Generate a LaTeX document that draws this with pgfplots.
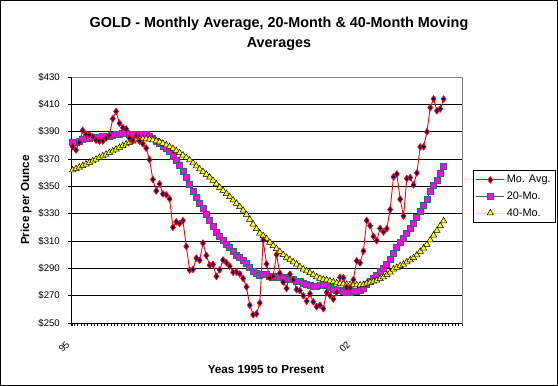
\documentclass[border=0pt]{standalone}
\usepackage{fontspec}
\setmainfont{Liberation Sans}
\usepackage{pgfplots}
\pgfplotsset{compat=1.18}
\usepackage{pgfplotstable}
\definecolor{navy}{RGB}{0,0,128}
\definecolor{tealb}{RGB}{51,102,102}
\definecolor{mag}{RGB}{255,0,255}
\definecolor{yel}{RGB}{255,255,0}

\pgfplotstableread{
idx mo ma20 ma40
0 379.0 381.8 362.0
1 376.6 382.3 362.8
2 382.1 383.0 363.9
3 391.0 384.0 365.0
4 388.0 384.8 366.2
5 387.6 385.3 367.4
6 386.2 385.6 368.6
7 383.7 385.8 369.8
8 383.1 386.0 371.0
9 383.1 386.2 372.2
10 385.3 386.5 373.4
11 387.4 386.8 374.6
12 399.5 387.3 375.8
13 404.8 387.8 377.1
14 396.2 388.2 378.4
15 392.9 388.4 379.7
16 392.0 388.4 380.9
17 385.3 388.2 382.0
18 383.5 388.0 383.0
19 387.4 387.7 383.8
20 383.1 387.9 384.4
21 381.1 388.2 384.7
22 377.9 388.0 384.7
23 369.5 386.9 384.4
24 355.0 385.2 383.9
25 346.6 383.2 383.2
26 351.8 381.5 382.4
27 344.5 379.5 381.4
28 343.8 377.5 380.3
29 340.8 375.4 379.0
30 320.0 372.2 377.6
31 324.0 369.0 376.0
32 322.8 365.2 374.5
33 324.9 361.2 372.8
34 306.0 356.6 371.0
35 288.7 351.4 369.2
36 289.2 346.3 367.0
37 297.5 341.9 364.8
38 295.9 337.5 362.6
39 308.4 333.6 360.7
40 299.4 329.4 358.7
41 292.3 325.0 356.6
42 292.9 320.7 354.3
43 284.1 316.4 351.7
44 288.9 313.1 349.2
45 296.1 310.6 346.9
46 294.1 307.7 344.6
47 291.6 305.1 342.3
48 287.1 302.2 339.9
49 287.3 299.6 337.5
50 285.9 297.9 335.0
51 282.6 295.8 332.4
52 276.4 293.5 329.3
53 263.0 290.4 325.8
54 256.1 287.9 322.3
55 256.7 286.3 318.9
56 264.7 285.1 315.7
57 310.7 285.7 313.8
58 293.2 285.6 311.6
59 283.1 284.3 308.9
60 284.3 283.6 306.5
61 299.9 283.9 304.4
62 286.4 283.6 302.2
63 280.0 283.4 299.9
64 275.3 282.7 297.9
65 285.7 282.2 296.4
66 281.6 281.6 294.6
67 274.5 280.7 292.9
68 273.7 280.1 291.1
69 270.0 279.2 289.4
70 266.0 278.2 288.0
71 271.5 277.6 286.7
72 265.5 277.1 285.3
73 261.9 277.0 283.7
74 263.0 277.4 282.6
75 260.5 277.6 281.9
76 272.4 278.0 281.5
77 270.2 275.9 280.8
78 267.5 274.7 280.1
79 272.4 274.1 279.2
80 283.4 274.1 278.8
81 283.1 273.2 278.6
82 276.2 272.7 278.2
83 275.9 272.5 278.0
84 281.7 272.8 277.8
85 295.5 273.3 277.8
86 294.0 273.9 277.8
87 302.7 275.4 278.0
88 325.0 277.9 279.0
89 321.2 280.5 279.8
90 313.3 282.8 280.5
91 310.3 284.8 281.2
92 319.2 287.5 282.3
93 316.6 290.2 283.6
94 319.1 293.0 285.2
95 333.0 296.6 287.1
96 356.9 300.9 289.4
97 359.0 305.3 290.6
98 340.6 309.0 291.8
99 328.2 311.7 292.9
100 355.7 315.4 294.7
101 356.4 319.0 296.1
102 351.0 322.8 297.7
103 359.8 327.0 299.7
104 378.9 331.8 302.3
105 378.9 336.0 304.7
106 389.9 340.8 307.4
107 407.6 346.0 310.7
108 414.0 350.5 314.2
109 405.3 354.7 317.6
110 406.7 359.4 321.1
111 413.9 364.5 324.7
}\golddata

\begin{document}
\begin{tikzpicture}[x=1pt,y=1pt]
\path[use as bounding box] (0,0) rectangle (558,386);
\draw[black, line width=1pt] (0.5,0.5) rectangle (557.5,385.5);
\node[font=\bfseries\fontsize{14.4}{19.7}\selectfont, align=center] at (279,352)
  {GOLD - Monthly Average, 20-Month \& 40-Month Moving\\Averages};
\begin{axis}[
  at={(71pt,63pt)}, anchor=south west,
  scale only axis, width=391pt, height=246pt,
  xmin=-0.5, xmax=116.5, ymin=250, ymax=430,
  clip=false,
  ytick={250,270,...,430},
  yticklabels={\$250,\$270,\$290,\$310,\$330,\$350,\$370,\$390,\$410,\$430},
  xtick={0,84}, xticklabels={95,02},
  minor xtick={-0.5,0.5,...,116.5},
  xtick pos=lower, ytick pos=left,
  tick align=outside,
  major tick length=3pt, minor tick length=3pt,
  every tick/.style={black, line width=0.6pt},
  ymajorgrids,
  major grid style={black, line width=0.7pt},
  axis line style={draw=gray, line width=0.8pt},
  tick label style={font=\fontsize{9.6}{11}\selectfont},
  yticklabel style={anchor=east, inner sep=0pt, xshift=-8pt},
  xticklabel style={rotate=45, anchor=north east, inner sep=0pt, xshift=-15.2pt, yshift=-5pt},
  xlabel={Yeas 1995 to Present},
  ylabel={Price per Ounce},
  label style={font=\bfseries\fontsize{11.7}{13}\selectfont},
  xlabel style={at={(axis description cs:0.4987,-0.187)}, anchor=center},
  ylabel style={at={(axis description cs:-0.1151,0.5)}, anchor=center},
  legend style={at={(axis description cs:1.0281,0.6220)}, anchor=north west,
    draw=black, line width=0.8pt, font=\fontsize{10.9}{12}\selectfont,
    inner xsep=2.5pt, inner ysep=3pt, row sep=3.5pt, cells={anchor=west}},
  legend image code/.code={\draw[mark repeat=2,mark phase=2] plot coordinates {(0pt,0pt)(14pt,0pt)(28pt,0pt)};},
]
\addplot[forget plot, draw=tealb, line width=0.9pt, mark=square*, mark size=3pt,
  mark options={fill=mag, draw=tealb, line width=0.8pt}] table[x=idx,y=ma20] {\golddata};
\addplot[forget plot, draw=yel, line width=0.9pt, mark=triangle*, mark size=3.7pt,
  mark options={fill=yel, draw=black, line width=0.5pt}] table[x=idx,y=ma40] {\golddata};
\addplot[forget plot, draw=red, line width=0.9pt, mark=diamond*, mark size=3.2pt,
  mark options={fill=navy, draw=red, line width=0.8pt}] table[x=idx,y=mo] {\golddata};
\draw[black, line width=0.8pt] (rel axis cs:0,1) -- (rel axis cs:0,0) -- (rel axis cs:1,0);
\addlegendimage{draw=red, line width=0.9pt, mark=diamond*, mark size=3.2pt, mark options={fill=navy, draw=red, line width=0.8pt}}
\addlegendentry{Mo. Avg.}
\addlegendimage{draw=tealb, line width=0.9pt, mark=square*, mark size=3pt, mark options={fill=mag, draw=tealb, line width=0.8pt}}
\addlegendentry{20-Mo.}
\addlegendimage{draw=yel, line width=0.9pt, mark=triangle*, mark size=3.7pt, mark options={fill=yel, draw=black, line width=0.5pt}}
\addlegendentry{40-Mo.}
\end{axis}
\end{tikzpicture}
\end{document}
